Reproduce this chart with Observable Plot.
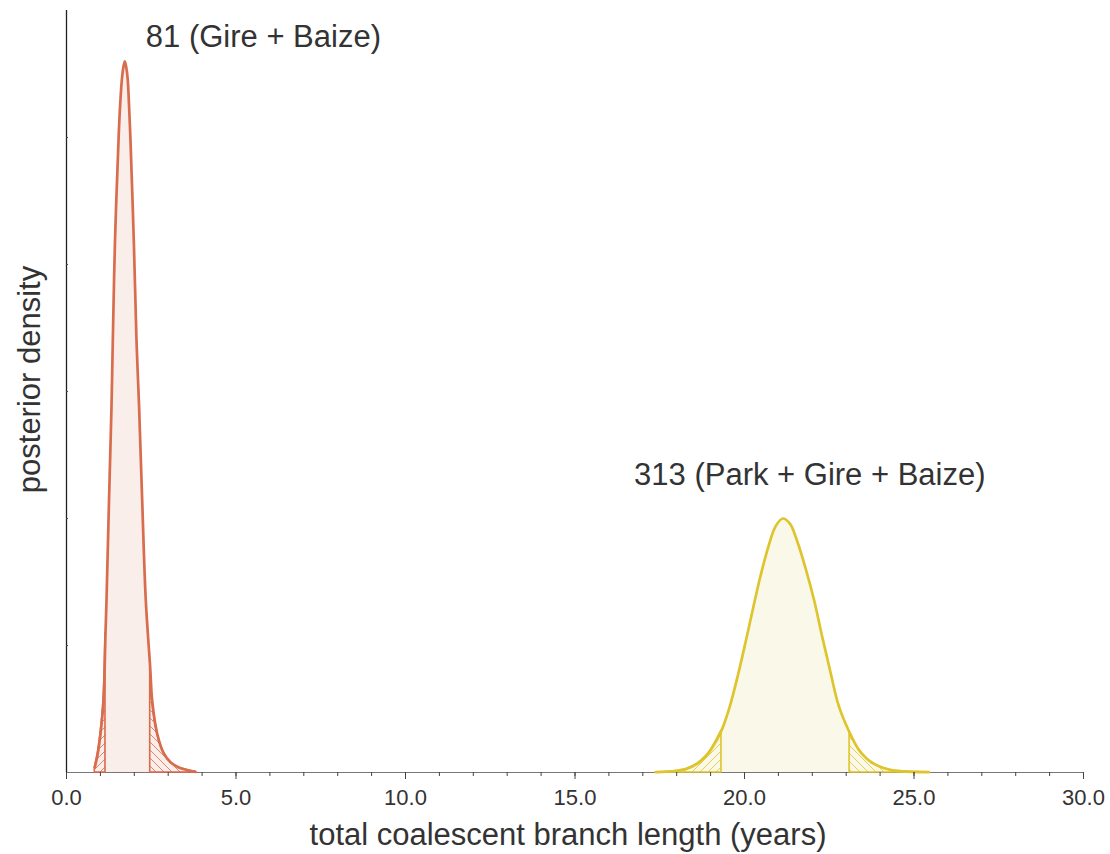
<!DOCTYPE html>
<html>
<head>
<meta charset="utf-8">
<script src="https://cdn.jsdelivr.net/npm/d3@7"></script>
<script src="https://cdn.jsdelivr.net/npm/@observablehq/plot@0.6"></script>
<style>
  body { margin: 0; background: #fff; }
  #chart svg { font-family: "Helvetica Neue", Helvetica, "Liberation Sans", Arial, sans-serif; font-weight: 300; }
</style>
</head>
<body>
<div id="chart"></div>
<script>
// Posterior density of total coalescent branch length (years), two sample sets
const gbLength  = [0.835, 0.923, 1.003, 1.091, 1.150, 1.180, 1.254, 1.327, 1.366, 1.431, 1.534, 1.569, 1.631, 1.664,
                   1.720, 1.776, 1.808, 1.855, 1.888, 1.985, 2.065, 2.142, 2.233, 2.339, 2.469, 2.528, 2.676,
                   2.870, 3.068, 3.313, 3.805];
const gbDensity = [0.008, 0.030, 0.061, 0.113, 0.219, 0.271, 0.428, 0.575, 0.680, 0.838, 0.995, 1.038, 1.090, 1.106,
                   1.120, 1.106, 1.090, 1.038, 0.995, 0.838, 0.680, 0.575, 0.428, 0.271, 0.165, 0.113, 0.061,
                   0.030, 0.016, 0.008, 0.001];
const gbInterval = [1.150, 2.469];

const pgbLength  = [17.38, 17.90, 18.30, 18.61, 18.85, 19.00, 19.32, 19.56, 19.80, 20.03, 20.25, 20.47, 20.70,
                    20.92, 21.13, 21.34, 21.55, 21.80, 22.05, 22.30, 22.54, 22.78, 23.10, 23.37, 23.60, 23.81,
                    24.10, 24.40, 25.44];
const pgbDensity = [0.0005, 0.002, 0.006, 0.014, 0.025, 0.035, 0.066, 0.103, 0.152, 0.205, 0.258, 0.309, 0.355,
                    0.388, 0.400, 0.392, 0.365, 0.322, 0.272, 0.212, 0.157, 0.105, 0.063, 0.036, 0.022, 0.014,
                    0.007, 0.003, 0.0005];
const pgbInterval = [19.32, 23.10];

const seriesLabels = ["81 (Gire + Baize)", "313 (Park + Gire + Baize)"];
const xMajorTicks = [0, 5, 10, 15, 20, 25, 30];
const xMinorTicks = d3.range(0, 31, 1);
const yTicks = [0.2, 0.4, 0.6, 0.8, 1.0];

const series = [
  {id: "gb", label: seriesLabels[0], x: gbLength, y: gbDensity, hpd: gbInterval,
   stroke: "#d86c4d", fill: "#f9eeea", anchor: "start", dx: 21, dy: -24},
  {id: "pgb", label: seriesLabels[1], x: pgbLength, y: pgbDensity, hpd: pgbInterval,
   stroke: "#dec42d", fill: "#faf8e8", anchor: "middle", dx: 27, dy: -43}
].map(s => {
  const rows = s.x.map((x, i) => ({x, y: s.y[i]}));
  const peak = rows[d3.maxIndex(rows, d => d.y)];
  return {
    ...s, rows, peak,
    lowTail: rows.filter(d => d.x <= s.hpd[0]),
    highTail: rows.filter(d => d.x >= s.hpd[1])
  };
});

const ink = "#333";
const curve = "catmull-rom";

const marks = [
  Plot.ruleY([0], {stroke: "#777", strokeWidth: 1.2})
];
for (const s of series) {
  marks.push(Plot.areaY(s.rows, {x: "x", y: "y", fill: s.fill, curve}));
  marks.push(Plot.areaY(s.lowTail, {x: "x", y: "y", fill: `url(#hatch-${s.id}-low)`,
    stroke: s.stroke, strokeWidth: 1.6, curve}));
  marks.push(Plot.areaY(s.highTail, {x: "x", y: "y", fill: `url(#hatch-${s.id}-high)`,
    stroke: s.stroke, strokeWidth: 1.6, curve}));
  marks.push(Plot.line(s.rows, {x: "x", y: "y", stroke: s.stroke, strokeWidth: 2.7, curve}));
  marks.push(Plot.text([s.peak], {x: "x", y: "y", text: () => s.label, textAnchor: s.anchor,
    dx: s.dx, dy: s.dy, fontSize: 31, fill: ink}));
}
marks.push(
  Plot.ruleX([0], {stroke: "#222", strokeWidth: 1.3}),
  Plot.axisX(xMinorTicks, {tickSize: 4, fill: "none", stroke: "#444"}),
  Plot.axisX(xMajorTicks, {tickSize: 7, tickPadding: 10, stroke: "#444", fill: ink,
    fontSize: 22, tickFormat: d3.format(".1f"), label: null}),
  Plot.axisY(yTicks, {tickSize: -2, fill: "none", stroke: "#444"}),
  Plot.text(["total coalescent branch length (years)"], {frameAnchor: "bottom", dx: -7, dy: 63,
    fontSize: 31, fill: ink, textAnchor: "middle", lineAnchor: "middle"}),
  Plot.text(["posterior density"], {frameAnchor: "left", rotate: -90, dx: -36, dy: -12,
    fontSize: 31, fill: ink, textAnchor: "middle", lineAnchor: "middle"})
);

const svg = Plot.plot({
  width: 1110,
  height: 854,
  marginLeft: 66,
  marginRight: 27,
  marginTop: 10,
  marginBottom: 82,
  x: {domain: [0, 30]},
  y: {domain: [0, 1.2], axis: null},
  style: {background: "#fff", color: ink, overflow: "visible"},
  marks
});

// Diagonal hatching for the tails outside the highest posterior density interval
const defs = d3.select(svg).insert("defs", ":first-child");
for (const s of series) {
  for (const side of ["low", "high"]) {
    const p = defs.append("pattern")
      .attr("id", `hatch-${s.id}-${side}`)
      .attr("patternUnits", "userSpaceOnUse")
      .attr("width", 8).attr("height", 8);
    p.append("path")
      .attr("d", side === "low"
        ? "M-2,2L2,-2M0,8L8,0M6,10L10,6"
        : "M-2,6L2,10M0,0L8,8M6,-2L10,2")
      .attr("stroke", s.stroke)
      .attr("stroke-width", 1)
      .attr("stroke-opacity", 0.8);
  }
}

document.getElementById("chart").append(svg);
</script>
</body>
</html>
